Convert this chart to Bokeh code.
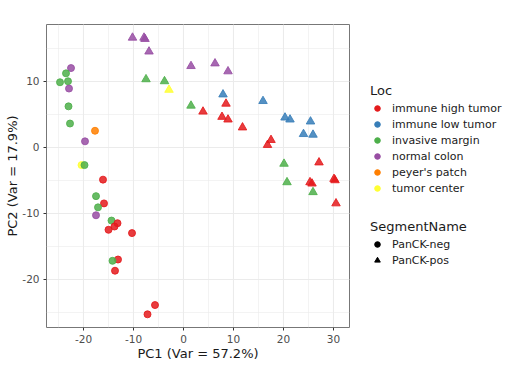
from bokeh.plotting import figure
from bokeh.layouts import row
from bokeh.models import (ColumnDataSource, Legend, LegendItem, SingleIntervalTicker, Range1d,
                          PrintfTickFormatter)
from bokeh.transform import factor_cmap
from bokeh.embed import file_html
from bokeh.resources import INLINE

loc_levels = ["immune high tumor", "immune low tumor", "invasive margin",
              "normal colon", "peyer's patch", "tumor center"]
loc_colors = ["#E41A1C", "#377EB8", "#4DAF4A", "#984EA3", "#FF7F00", "#FFFF33"]
seg_levels = ["PanCK-neg", "PanCK-pos"]
seg_markers = ["circle", "triangle"]

# PanCK-neg samples
neg_loc = ["normal colon", "invasive margin", "invasive margin", "invasive margin",
           "normal colon", "invasive margin", "invasive margin", "peyer's patch",
           "normal colon", "tumor center", "invasive margin", "immune high tumor",
           "invasive margin", "immune high tumor", "invasive margin", "normal colon",
           "invasive margin", "immune high tumor", "immune high tumor", "immune high tumor",
           "immune high tumor", "immune high tumor", "invasive margin", "immune high tumor",
           "immune high tumor", "immune high tumor"]
neg_pc1 = [-22.5, -23.5, -24.7, -23.1, -22.9, -23.0, -22.7, -17.7, -19.7, -20.4, -19.8,
           -16.1, -17.5, -15.9, -17.1, -17.5, -14.4, -13.2, -13.8, -15.0, -10.3, -13.1,
           -14.2, -13.7, -5.7, -7.2]
neg_pc2 = [12.0, 11.2, 9.85, 10.0, 8.9, 6.2, 3.6, 2.5, 0.9, -2.7, -2.7, -4.9, -7.4, -8.5,
           -9.1, -10.3, -11.1, -11.5, -12.0, -12.5, -13.0, -17.0, -17.2, -18.7, -23.9, -25.3]

# PanCK-pos samples
pos_loc = ["normal colon", "normal colon", "normal colon", "normal colon",
           "invasive margin", "invasive margin", "tumor center", "normal colon",
           "normal colon", "normal colon", "immune low tumor", "invasive margin",
           "immune high tumor", "immune high tumor", "immune low tumor", "immune high tumor",
           "immune high tumor", "immune high tumor", "immune low tumor", "immune low tumor",
           "immune low tumor", "immune low tumor", "immune low tumor", "immune high tumor",
           "immune high tumor", "invasive margin", "immune high tumor", "invasive margin",
           "immune high tumor", "immune high tumor", "immune high tumor", "immune high tumor",
           "invasive margin", "immune high tumor"]
pos_pc1 = [-10.2, -7.9, -7.7, -6.9, -7.5, -3.8, -2.9, 1.5, 6.3, 8.9, 7.9, 1.5, 8.5, 3.9,
           15.9, 7.7, 8.9, 11.8, 20.3, 21.3, 25.4, 24.0, 25.9, 17.5, 16.8, 20.1, 27.1,
           20.7, 25.3, 25.7, 30.1, 30.3, 25.9, 30.5]
pos_pc2 = [16.6, 16.6, 16.4, 14.5, 10.3, 10.0, 8.7, 12.3, 12.7, 11.5, 8.0, 6.3, 6.6, 5.4,
           7.0, 4.6, 4.2, 3.0, 4.5, 4.2, 3.9, 2.0, 1.9, 1.1, 0.35, -2.5, -2.3, -5.3, -5.3,
           -5.5, -4.8, -5.0, -6.8, -8.5]

x_label = "PC1 (Var = 57.2%)"
y_label = "PC2 (Var = 17.9%)"

neg_src = ColumnDataSource(dict(pc1=neg_pc1, pc2=neg_pc2, loc=neg_loc))
pos_src = ColumnDataSource(dict(pc1=pos_pc1, pc2=pos_pc2, loc=pos_loc))

p = figure(width=352, height=384, output_backend="svg", toolbar_location=None,
           x_range=Range1d(-27.4, 33.2), y_range=Range1d(-27.3, 18.6),
           min_border_left=46, min_border_right=3, min_border_top=24, min_border_bottom=57)

cmap = factor_cmap("loc", loc_colors, loc_levels)
p.scatter("pc1", "pc2", source=neg_src, size=7, marker="circle",
          color=cmap, fill_alpha=0.85, line_alpha=0.85)
p.scatter("pc1", "pc2", source=pos_src, size=8.5, marker="triangle",
          color=cmap, fill_alpha=0.85, line_alpha=0.85)

# axes / grid styling (theme_bw-like)
for ax in (p.xaxis[0], p.yaxis[0]):
    ax.ticker = SingleIntervalTicker(interval=10, num_minor_ticks=2)
    ax.formatter = PrintfTickFormatter(format="%d")
    ax.axis_line_color = None
    ax.major_tick_line_color = "#333333"
    ax.major_tick_in = 0
    ax.major_tick_out = 3
    ax.minor_tick_line_color = None
    ax.major_label_text_font = "DejaVu Sans"
    ax.major_label_text_font_size = "10.5px"
    ax.major_label_text_color = "#4d4d4d"
    ax.major_label_standoff = 3
    ax.axis_label_text_font = "DejaVu Sans"
    ax.axis_label_text_font_size = "13px"
    ax.axis_label_text_font_style = "normal"
    ax.axis_label_text_color = "#1a1a1a"
p.xaxis[0].axis_label_standoff = 0
p.yaxis[0].axis_label_standoff = -1
p.xaxis.axis_label = x_label
p.yaxis.axis_label = y_label

for g in (p.xgrid[0], p.ygrid[0]):
    g.ticker = SingleIntervalTicker(interval=10, num_minor_ticks=2)
    g.grid_line_color = "#EBEBEB"
    g.grid_line_width = 1.1
    g.minor_grid_line_color = "#EBEBEB"
    g.minor_grid_line_width = 0.6

p.outline_line_color = "#777777"
p.outline_line_width = 1

# legend panel
q = figure(width=160, height=384, output_backend="svg", toolbar_location=None,
           x_range=Range1d(0, 1), y_range=Range1d(0, 1),
           x_axis_type=None, y_axis_type=None,
           min_border_left=0, min_border_right=0, min_border_top=0, min_border_bottom=0)
q.outline_line_color = None
q.xgrid.visible = False
q.ygrid.visible = False

nan = float("nan")
loc_items = []
for lv, c in zip(loc_levels, loc_colors):
    r = q.scatter(x=[nan], y=[nan], marker="circle", size=6.5, color=c)
    loc_items.append(LegendItem(label=lv, renderers=[r]))
seg_items = []
for lv, m in zip(seg_levels, seg_markers):
    r = q.scatter(x=[nan], y=[nan], marker=m, size=6.5 if m == "circle" else 8, color="black")
    seg_items.append(LegendItem(label=lv, renderers=[r]))


def style_legend(lg):
    lg.border_line_color = None
    lg.background_fill_alpha = 0
    lg.padding = 0
    lg.margin = 0
    lg.spacing = 0
    lg.glyph_width = 14
    lg.glyph_height = 16
    lg.label_height = 16
    lg.label_standoff = 8
    lg.label_text_font = "DejaVu Sans"
    lg.label_text_font_size = "11px"
    lg.label_text_color = "#1a1a1a"
    lg.title_text_font = "DejaVu Sans"
    lg.title_text_font_size = "13px"
    lg.title_text_font_style = "normal"
    lg.title_text_color = "#1a1a1a"
    lg.title_standoff = 2


leg1 = Legend(items=loc_items, title="Loc", location=(18, 131))
leg2 = Legend(items=seg_items, title="SegmentName", location=(18, 59))
style_legend(leg1)
style_legend(leg2)
q.add_layout(leg1, "center")
q.add_layout(leg2, "center")

layout = row(p, q, spacing=0)
open("out.html", "w").write(file_html(layout, INLINE))
